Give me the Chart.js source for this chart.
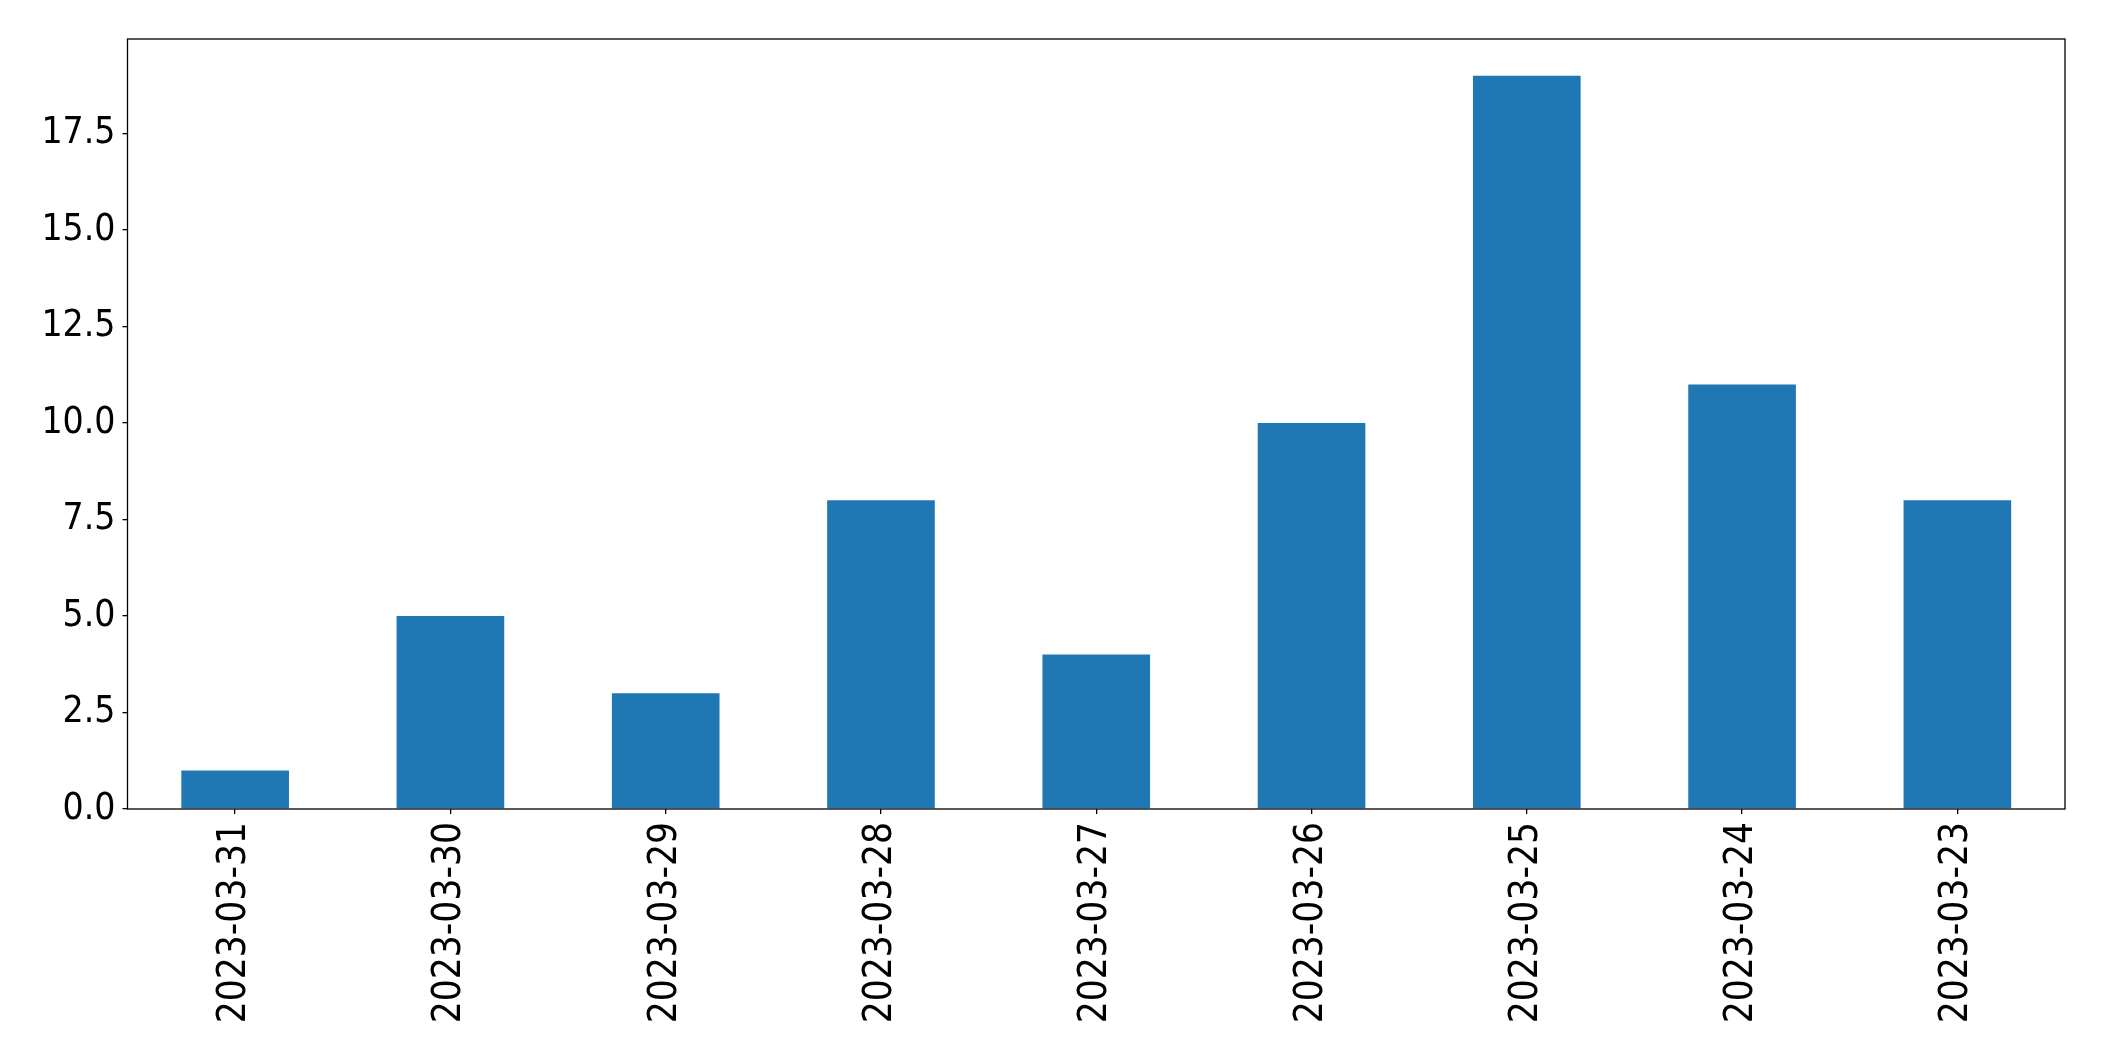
<!DOCTYPE html>
<html>
<head>
<meta charset="utf-8">
<script src="https://cdn.jsdelivr.net/npm/chart.js@4/dist/chart.umd.min.js"></script>
<style>
  html, body { margin: 0; padding: 0; background: #fff; }
  #wrap { width: 2104px; height: 1061px; }
</style>
</head>
<body>
<div id="wrap"><canvas id="barChart" width="2104" height="1061"></canvas></div>
<script>
// values
const dates = ["2023-03-31", "2023-03-30", "2023-03-29", "2023-03-28", "2023-03-27",
               "2023-03-26", "2023-03-25", "2023-03-24", "2023-03-23"];
const counts = [1, 5, 3, 8, 4, 10, 19, 11, 8];
const yTickStep = 2.5;
const yMax = 19.95;

const tickFont = "'DejaVu Sans Condensed', 'DejaVu Sans', sans-serif";

// box around the plot area, like a matplotlib axes frame
const frame = {
  id: "frame",
  afterDraw(chart){
    const a = chart.chartArea;
    const ctx = chart.ctx;
    ctx.save();
    ctx.strokeStyle = "#000";
    ctx.lineWidth = 1.3;
    ctx.strokeRect(a.left, a.top, a.right - a.left, a.bottom - a.top);
    ctx.restore();
  }
};

function buildChart(){
  const ctx = document.getElementById("barChart").getContext("2d");
  window._barChart = new Chart(ctx, {
    type: "bar",
    data: {
      labels: dates,
      datasets: [{
        data: counts,
        backgroundColor: "#1f77b4",
        borderWidth: 0,
        barPercentage: 0.5,
        categoryPercentage: 1.0
      }]
    },
    options: {
      responsive: false,
      animation: false,
      devicePixelRatio: 1,
      layout: { padding: { top: 39, right: 39, left: 0, bottom: 0 } },
      plugins: { legend: { display: false }, tooltip: { enabled: false } },
      scales: {
        x: {
          afterFit(scale){ scale.height = 252; },
          grid: { display: true, offset: false, drawOnChartArea: false, drawTicks: true, tickLength: 5, color: "#000", lineWidth: 1.3 },
          border: { display: false },
          ticks: {
            color: "#000",
            font: { family: tickFont, size: 38.5 },
            minRotation: 90, maxRotation: 90,
            autoSkip: false,
            padding: 8
          }
        },
        y: {
          min: 0,
          max: yMax,
          afterFit(scale){ scale.width = 127.5; },
          grid: { display: true, drawOnChartArea: false, drawTicks: true, tickLength: 5, color: "#000", lineWidth: 1.3 },
          border: { display: false },
          ticks: {
            stepSize: yTickStep,
            includeBounds: false,
            color: "#000",
            font: { family: tickFont, size: 37 },
            padding: 7,
            callback: v => Number(v).toFixed(1)
          }
        }
      }
    },
    plugins: [frame]
  });
}

window.addEventListener("load", buildChart);
</script>
</body>
</html>
